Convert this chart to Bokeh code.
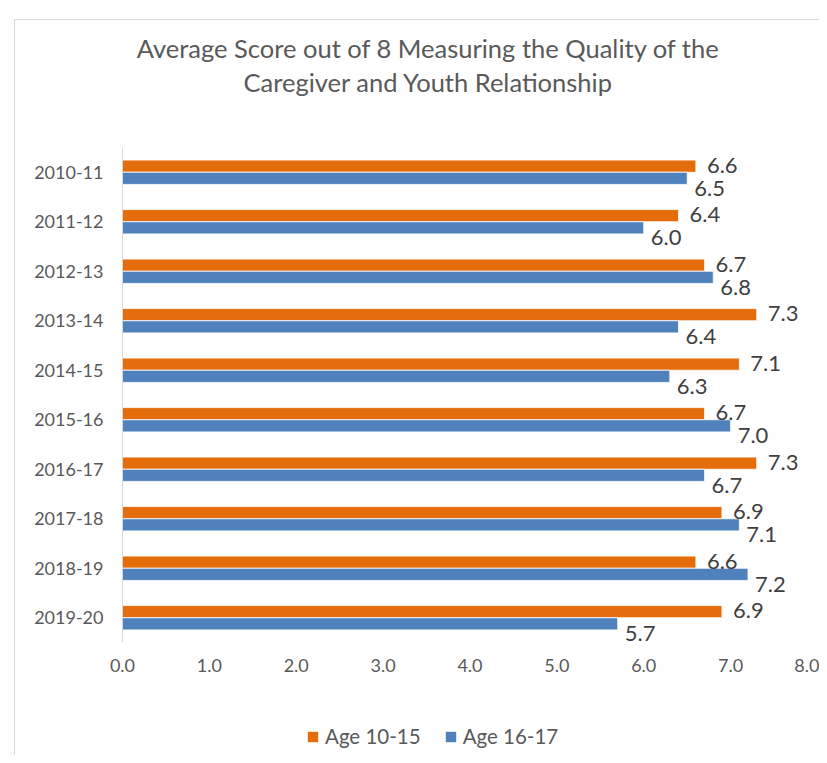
from bokeh.plotting import figure
from bokeh.layouts import column
from bokeh.models import (ColumnDataSource, FactorRange, Range1d, FixedTicker,
                          PrintfTickFormatter, Legend, LegendItem, Label)
from bokeh.transform import dodge
from bokeh.core.properties import value
from bokeh.embed import file_html
from bokeh.resources import INLINE

years = ["2010-11", "2011-12", "2012-13", "2013-14", "2014-15",
         "2015-16", "2016-17", "2017-18", "2018-19", "2019-20"]
age_10_15 = [6.6, 6.4, 6.7, 7.3, 7.1, 6.7, 7.3, 6.9, 6.6, 6.9]
age_16_17 = [6.5, 6.0, 6.8, 6.4, 6.3, 7.0, 6.7, 7.1, 7.2, 5.7]
x_ticks = [0, 1, 2, 3, 4, 5, 6, 7, 8]
title_lines = ["Average Score out of 8 Measuring the Quality of the",
               "Caregiver and Youth Relationship"]
series_names = ["Age 10-15", "Age 16-17"]

ORANGE = "#E46C0A"
BLUE = "#4F81BD"
FONT = "Lato"
GREY = "#d9d9d9"
W = 819

src = ColumnDataSource(dict(
    year=years, a=age_10_15, b=age_16_17,
    a_txt=[f"{v:.1f}" for v in age_10_15],
    b_txt=[f"{v:.1f}" for v in age_16_17],
))

vline = f"linear-gradient({GREY},{GREY}) 14px 0 / 1px 100% no-repeat"

# ---- title strip ----
tt = figure(width=W, height=139, output_backend="svg", toolbar_location=None,
            x_axis_location=None, y_axis_location=None,
            x_range=Range1d(0, 1), y_range=Range1d(0, 1),
            min_border_left=0, min_border_right=0, min_border_top=0, min_border_bottom=0,
            outline_line_color=None, border_fill_color=None, background_fill_color=None,
            styles={"background": (f"linear-gradient({GREY},{GREY}) 14px 19px / 1px calc(100% - 19px) no-repeat, "
                                   f"linear-gradient({GREY},{GREY}) 14px 19px / calc(100% - 14px) 1px no-repeat")})
tt.xgrid.grid_line_color = None
tt.ygrid.grid_line_color = None
for txt, yy in zip(title_lines, [92, 58]):
    tt.add_layout(Label(x=306, y=yy, x_units="screen", y_units="screen", text=txt,
                        text_align="center", text_baseline="middle",
                        text_font=FONT, text_font_size="25.5px", text_color="#595959"))

# ---- main chart ----
p = figure(width=W, height=551, output_backend="svg", toolbar_location=None,
           y_range=FactorRange(*reversed(years)), x_range=Range1d(0, 8),
           min_border_left=122, min_border_right=2, min_border_top=8,
           min_border_bottom=48, outline_line_color=None,
           border_fill_color=None, background_fill_color=None,
           styles={"background": vline})
p.title = None

p.hbar(y=dodge("year", 0.123, range=p.y_range), right="a", left=0, height=0.245,
       source=src, fill_color=ORANGE, line_color="white", line_width=0.8)
p.hbar(y=dodge("year", -0.123, range=p.y_range), right="b", left=0, height=0.245,
       source=src, fill_color=BLUE, line_color="white", line_width=0.8)

p.text(x="a", y=dodge("year", 0.123, range=p.y_range), text="a_txt", source=src,
       x_offset=11, y_offset=-1, text_baseline="middle", text_align="left",
       text_font=value(FONT), text_font_size="22px", text_color="#404040")
p.text(x="b", y=dodge("year", -0.123, range=p.y_range), text="b_txt", source=src,
       x_offset=7, y_offset=10, text_baseline="middle", text_align="left",
       text_font=value(FONT), text_font_size="22px", text_color="#404040")

p.xaxis.ticker = FixedTicker(ticks=x_ticks)
p.xaxis.formatter = PrintfTickFormatter(format="%.1f")
p.xaxis.axis_line_color = None
p.xaxis.major_tick_line_color = None
p.xaxis.minor_tick_line_color = None
p.xaxis.major_label_standoff = 10
p.xaxis.major_label_text_font = FONT
p.xaxis.major_label_text_font_size = "18px"
p.xaxis.major_label_text_color = "#595959"

p.yaxis.axis_line_color = GREY
p.yaxis.axis_line_width = 1
p.yaxis.major_tick_line_color = None
p.yaxis.minor_tick_line_color = None
p.yaxis.major_label_standoff = 13
p.yaxis.major_label_text_font = FONT
p.yaxis.major_label_text_font_size = "18px"
p.yaxis.major_label_text_color = "#595959"

p.xgrid.grid_line_color = None
p.ygrid.grid_line_color = None

# ---- legend strip ----
lg = figure(width=W, height=65, output_backend="svg", toolbar_location=None,
            x_axis_location=None, y_axis_location=None,
            y_range=FactorRange(*reversed(years)), x_range=Range1d(100, 101),
            min_border_left=0, min_border_right=0, min_border_top=0, min_border_bottom=0,
            outline_line_color=None, border_fill_color=None, background_fill_color=None,
            styles={"background": vline})
lg.xgrid.grid_line_color = None
lg.ygrid.grid_line_color = None
la = lg.hbar(y="year", right="a", left=0, height=0, source=src,
             fill_color=ORANGE, line_color=None)
lb = lg.hbar(y="year", right="b", left=0, height=0, source=src,
             fill_color=BLUE, line_color=None)
legend = Legend(items=[LegendItem(label=series_names[0], renderers=[la]),
                       LegendItem(label=series_names[1], renderers=[lb])],
                orientation="horizontal", location=(184, 7),
                glyph_width=13, glyph_height=13, label_standoff=6, spacing=23,
                padding=0, margin=0, border_line_color=None,
                label_text_font=FONT, label_text_font_size="20.5px",
                label_text_color="#595959", background_fill_alpha=0)
lg.add_layout(legend, "center")

layout = column(tt, p, lg, spacing=0)
open("out.html", "w").write(file_html(layout, INLINE))
